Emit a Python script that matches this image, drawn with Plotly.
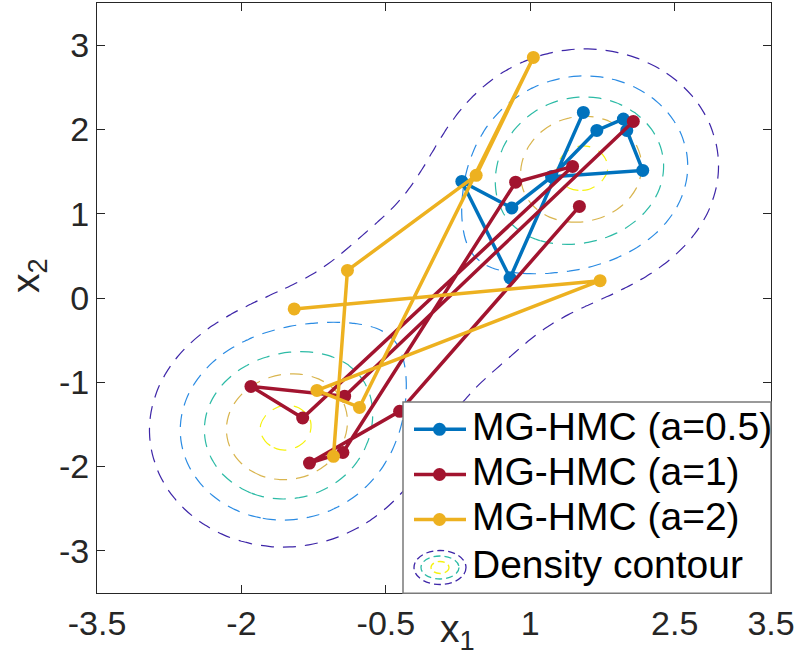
import numpy as np
import plotly.graph_objects as go

# ---- sample paths (x1, x2) ----
blue_x1 = [1.551, 0.790, 0.289, 0.808, 1.223, 1.691, 1.967, 2.002, 2.168, 1.223]
blue_x2 = [2.202, 0.237, 1.383, 1.068, 1.439, 1.988, 2.124, 1.988, 1.514, 1.439]

red_x1 = [1.510, -0.357, -1.293, -0.946, 0.848, 1.439, -1.364, -1.901, -0.928, 2.070]
red_x2 = [1.087, -1.345, -1.958, -1.833, 1.374, 1.561, -1.424, -1.049, -1.165, 2.095]

yellow_x1 = [-1.044, -0.899, 0.438, 1.032, -0.774, -1.216, 1.725, -1.452]
yellow_x2 = [-1.879, 0.327, 1.455, 2.854, -1.298, -1.096, 0.205, -0.130]

series_names = ["MG-HMC (a=0.5)", "MG-HMC (a=1)", "MG-HMC (a=2)"]
series_colors = ["#0072BD", "#A2142F", "#EDB120"]

# ---- target density ----
mode_centers = [(-1.58, -1.58), (1.58, 1.58)]
mode_sd = 0.8
bridge_weight = 0.34
bridge_sd = 1.1
contour_levels = [0.2325, 0.4266, 0.6147, 0.789, 0.9936]
contour_colors = ["#3E26A8", "#2A8BE3", "#2DBBA6", "#D9B54E", "#F5F20F"]

x_ticks = [-3.5, -2, -0.5, 1, 2.5, 3.5]
y_ticks = [-3, -2, -1, 0, 1, 2, 3]

grid = np.linspace(-3.5, 3.5, 71)
GX, GY = np.meshgrid(grid, grid)
Z = bridge_weight * np.exp(-(GX**2 + GY**2) / (2 * bridge_sd**2))
for mx, my in mode_centers:
    Z += np.exp(-((GX - mx)**2 + (GY - my)**2) / (2 * mode_sd**2))

fig = go.Figure()

for lev, col in zip(contour_levels, contour_colors):
    fig.add_trace(go.Contour(
        x=grid, y=grid, z=Z,
        contours=dict(start=lev, end=lev, size=1, coloring="none"),
        line=dict(color=col, width=1.2, dash="13px,9px"),
        showscale=False, hoverinfo="skip", showlegend=False,
    ))

for xs, ys, name, col in zip([blue_x1, red_x1, yellow_x1],
                             [blue_x2, red_x2, yellow_x2],
                             series_names, series_colors):
    fig.add_trace(go.Scatter(
        x=xs, y=ys, mode="lines+markers", name=name,
        line=dict(color=col, width=3.5),
        marker=dict(color=col, size=13),
        showlegend=False,
    ))

# ---- axes geometry (pixels) ----
W, H = 799, 659
L, R, T, B = 97, 28, 3, 66
pw, ph = W - L - R, H - T - B


def px(xp):
    return (xp - L) / pw


def py(yp):
    return (H - B - yp) / ph


axis_col = "#262626"
font_family = "Liberation Sans, Arial, Helvetica, sans-serif"

shapes = []
annotations = []

# legend box
shapes.append(dict(type="rect", xref="paper", yref="paper", layer="above",
                   x0=px(403), x1=px(771), y0=py(593.3), y1=py(402),
                   line=dict(color="#7a7a7a", width=1.5), fillcolor="white"))
row_y = [429.3, 474.5, 519.5]
for yy, col, name in zip(row_y, series_colors, series_names):
    shapes.append(dict(type="line", xref="paper", yref="paper", layer="above",
                       x0=px(414), x1=px(466), y0=py(yy), y1=py(yy),
                       line=dict(color=col, width=3.5)))
    shapes.append(dict(type="circle", xref="paper", yref="paper", layer="above",
                       x0=px(439.5 - 6.5), x1=px(439.5 + 6.5),
                       y0=py(yy + 6.5), y1=py(yy - 6.5),
                       fillcolor=col, line=dict(color=col, width=0)))
    annotations.append(dict(xref="paper", yref="paper", x=px(470), y=py(yy - 3),
                            xanchor="left", yanchor="middle", showarrow=False,
                            text=name, font=dict(size=39, color="black", family=font_family)))
# contour icon
for (rx, ry), col in zip([(26, 17), (19, 11.5), (9, 6)],
                         [contour_colors[0], contour_colors[2], contour_colors[4]]):
    shapes.append(dict(type="circle", xref="paper", yref="paper", layer="above",
                       x0=px(440 - rx), x1=px(440 + rx),
                       y0=py(567.5 + ry), y1=py(567.5 - ry),
                       line=dict(color=col, width=1.3, dash="7px,4px")))
annotations.append(dict(xref="paper", yref="paper", x=px(470), y=py(564),
                        xanchor="left", yanchor="middle", showarrow=False,
                        text="Density contour",
                        font=dict(size=39, color="black", family=font_family)))

# axis labels
annotations.append(dict(xref="paper", yref="paper", x=px(457), y=py(605),
                        xanchor="center", yanchor="top", showarrow=False,
                        text="x<sub>1</sub>",
                        font=dict(size=39, color=axis_col, family=font_family)))
annotations.append(dict(xref="paper", yref="paper", x=px(28), y=py(276),
                        xanchor="center", yanchor="middle", showarrow=False,
                        textangle=-90, text="x<sub>2</sub>",
                        font=dict(size=39, color=axis_col, family=font_family)))

axis_common = dict(showgrid=False, zeroline=False, showline=True, linecolor=axis_col,
                   linewidth=1, mirror="ticks", ticks="inside", ticklen=8, tickwidth=1,
                   tickcolor=axis_col,
                   tickfont=dict(size=34, color=axis_col, family=font_family))

fig.update_layout(
    width=W, height=H,
    margin=dict(l=L, r=R, t=T, b=B, autoexpand=False),
    paper_bgcolor="white", plot_bgcolor="white",
    showlegend=False,
    xaxis=dict(range=[-3.5, 3.5], tickmode="array", tickvals=x_ticks,
               ticktext=[f"{v:g}" for v in x_ticks], **axis_common),
    yaxis=dict(range=[-3.5, 3.5], tickmode="array", tickvals=y_ticks,
               ticktext=[f"{v:g}" for v in y_ticks], **axis_common),
    shapes=shapes, annotations=annotations,
)

fig.write_html("out.html")
